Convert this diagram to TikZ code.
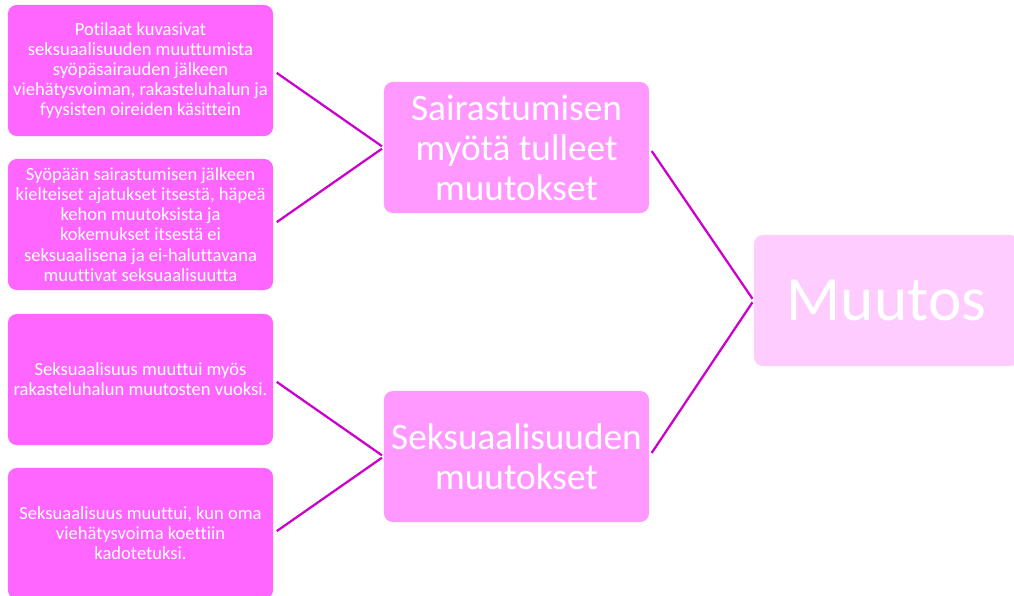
\documentclass[tikz,border=0pt]{standalone}
\usepackage{fontspec}
\setmainfont{Carlito}[Ligatures=NoCommon]
\definecolor{leaffill}{HTML}{FF66FF}
\definecolor{midfill}{HTML}{FF99FF}
\definecolor{topfill}{HTML}{FFCCFF}
\definecolor{linkline}{HTML}{CC00CC}
\tikzset{
  leafbox/.style={fill=leaffill, rounded corners=0.22cm, minimum width=6.625cm, minimum height=3.275cm, align=center, text=white, inner sep=0pt, font=\fontsize{13.2}{14.3}\selectfont},
  midbox/.style={fill=midfill, rounded corners=0.22cm, minimum width=6.625cm, minimum height=3.275cm, align=center, text=white, inner sep=0pt, font=\fontsize{26.5}{28.5}\selectfont},
  topbox/.style={fill=topfill, rounded corners=0.22cm, minimum width=6.625cm, minimum height=3.275cm, align=center, text=white, inner sep=0pt, font=\fontsize{45}{50}\selectfont},
  link/.style={draw=linkline, line width=1.6pt, shorten <=3pt, shorten >=1.5pt},
}
\begin{document}
\begin{tikzpicture}[x=0.025cm, y=-0.025cm]
\useasboundingbox (0,0) rectangle (1014,595);
\node[leafbox] (p1) at (140.5,70.5) {Potilaat kuvasivat\\seksuaalisuuden muuttumista\\syöpäsairauden jälkeen\\viehätysvoiman, rakasteluhalun ja\\fyysisten oireiden käsittein};
\node[leafbox] (p2) at (140.5,224.5) {Syöpään sairastumisen jälkeen\\kielteiset ajatukset itsestä, häpeä\\kehon muutoksista ja\\kokemukset itsestä ei\\seksuaalisena ja ei-haluttavana\\muuttivat seksuaalisuutta};
\node[leafbox] (p3) at (140.5,379.5) {Seksuaalisuus muuttui myös\\rakasteluhalun muutosten vuoksi.};
\node[leafbox] (p4) at (140.5,533.5) {Seksuaalisuus muuttui, kun oma\\viehätysvoima koettiin\\kadotetuksi.};
\node[midbox] (sa) at (516.5,147.5) {Sairastumisen\\myötä tulleet\\muutokset};
\node[midbox] (se) at (516.5,456.5) {Seksuaalisuuden\\muutokset};
\node[topbox] (mu) at (886.5,300.5) {Muutos};
\draw[link] (p1.east) -- (sa.west);
\draw[link] (p2.east) -- (sa.west);
\draw[link] (p3.east) -- (se.west);
\draw[link] (p4.east) -- (se.west);
\draw[link] (sa.east) -- (mu.west);
\draw[link] (se.east) -- (mu.west);
\end{tikzpicture}
\end{document}
